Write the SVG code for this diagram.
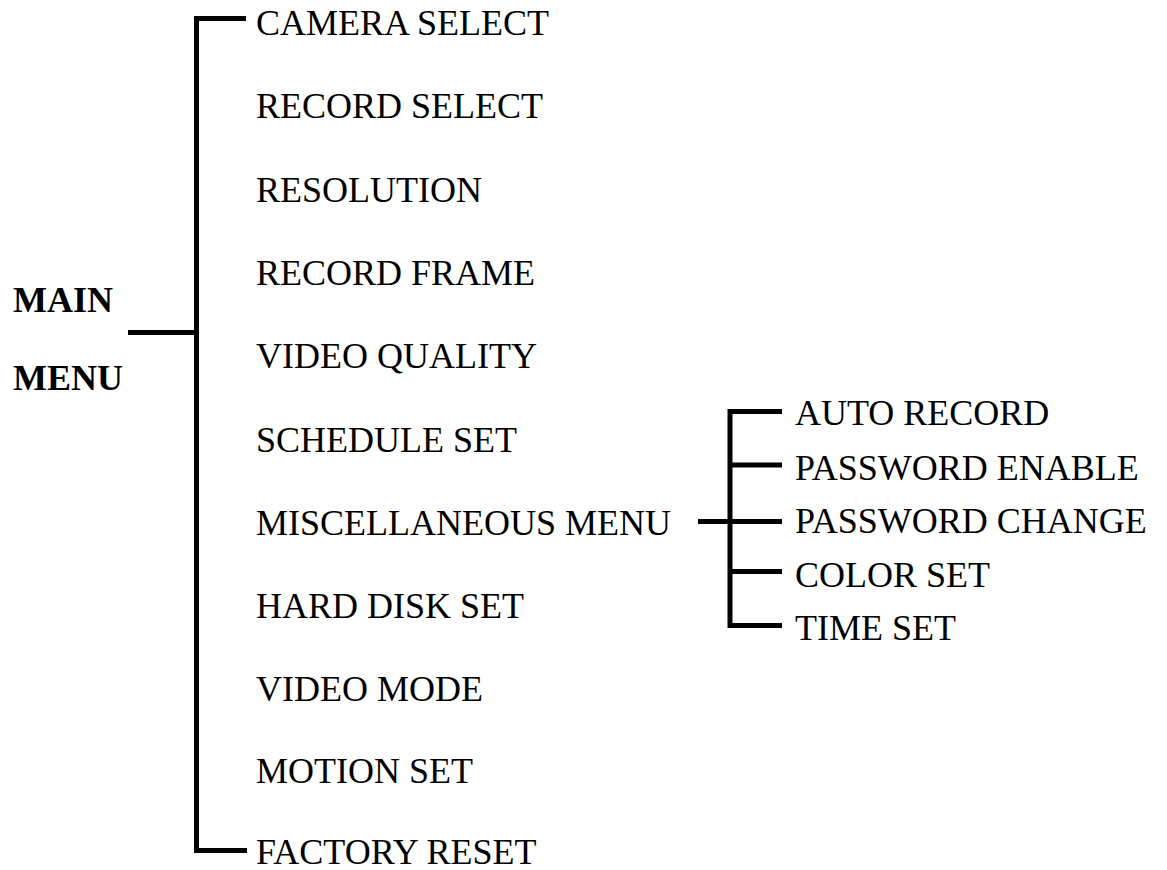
<svg xmlns="http://www.w3.org/2000/svg" width="1167" height="870" viewBox="0 0 1167 870">
<style>
text{font-family:"Liberation Serif","Times New Roman",serif;font-size:36px;fill:#000}
.b{font-weight:bold}
.c{stroke:#000;stroke-width:5;fill:none;stroke-linecap:butt}
</style>
<rect width="1167" height="870" fill="#fff"/>
<g id="connectors">
<path class="c" d="M196.5,16 V853"/>
<path class="c" d="M194,18.5 H246"/>
<path class="c" d="M194,850.5 H247"/>
<path class="c" d="M128,332.5 H199"/>
<path class="c" d="M730,409 V628"/>
<path class="c" d="M728,411.5 H782"/>
<path class="c" d="M730,465 H782"/>
<path class="c" d="M698,521.5 H782"/>
<path class="c" d="M730,571.5 H782"/>
<path class="c" d="M728,625.5 H782"/>
</g>
<g id="main-menu"><text class="b" x="13" y="312">MAIN</text><text class="b" x="13" y="390">MENU</text></g>
<g id="camera-select"><text x="256" y="35">CAMERA SELECT</text></g>
<g id="record-select"><text x="256" y="118">RECORD SELECT</text></g>
<g id="resolution"><text x="256" y="202">RESOLUTION</text></g>
<g id="record-frame"><text x="256" y="285">RECORD FRAME</text></g>
<g id="video-quality"><text x="256" y="368">VIDEO QUALITY</text></g>
<g id="schedule-set"><text x="256" y="452">SCHEDULE SET</text></g>
<g id="misc-menu"><text x="256" y="535">MISCELLANEOUS MENU</text></g>
<g id="hard-disk-set"><text x="256" y="618">HARD DISK SET</text></g>
<g id="video-mode"><text x="256" y="701">VIDEO MODE</text></g>
<g id="motion-set"><text x="256" y="783">MOTION SET</text></g>
<g id="factory-reset"><text x="256" y="864">FACTORY RESET</text></g>
<g id="auto-record"><text x="795" y="425">AUTO RECORD</text></g>
<g id="password-enable"><text x="795" y="480">PASSWORD ENABLE</text></g>
<g id="password-change"><text x="795" y="533">PASSWORD CHANGE</text></g>
<g id="color-set"><text x="795" y="587">COLOR SET</text></g>
<g id="time-set"><text x="795" y="640">TIME SET</text></g>
</svg>
